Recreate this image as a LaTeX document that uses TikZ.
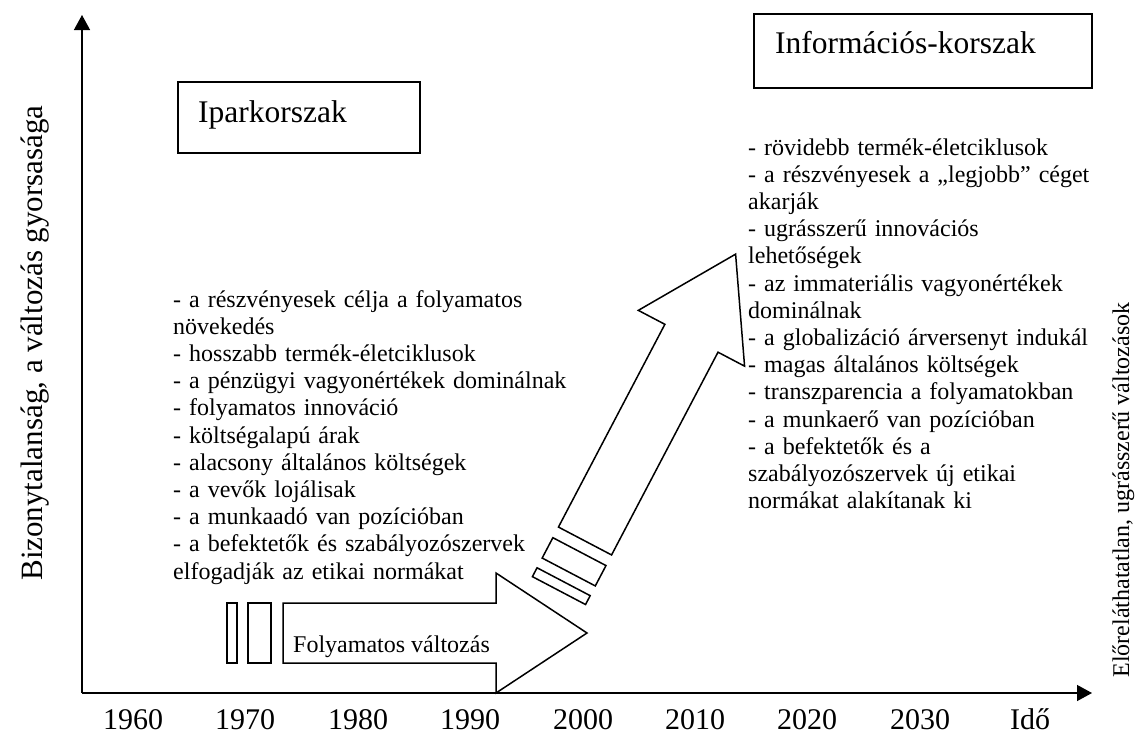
\documentclass[tikz,border=0pt]{standalone}
\usepackage{fontspec}
\setmainfont{Liberation Serif}
\usetikzlibrary{arrows.meta}

% a block arrow (body + head) preceded by two short bars, drawn along the local x axis
\newcommand\blockarrowshape[2]{%
  \draw[blockline] (0,-30) -- (#1,-30) -- (#1,-60) -- ({#1+#2},0) -- (#1,60) -- (#1,30) -- (0,30) -- cycle;
  \draw[blockline] (-56,-30) -- (-46,-30) -- (-46,30) -- (-56,30) -- cycle;
  \draw[blockline] (-35,-30) -- (-12,-30) -- (-12,30) -- (-35,30) -- cycle;
}

\begin{document}
\begin{tikzpicture}[x=1pt,y=-1pt,
  axis/.style={line width=1.3pt,-{Triangle[length=15pt,width=16pt]}},
  blockline/.style={line width=1.5pt,line join=miter},
  periodbox/.style={draw,line width=1.8pt,inner sep=0pt,anchor=north west},
  periodtitle/.style={anchor=base west,inner sep=0pt,font=\fontsize{31.5}{36}\selectfont},
  itemlist/.style={anchor=base west,inner sep=0pt,text width=600pt,align=left,font=\fontsize{24}{27.2}\selectfont},
  yearlabel/.style={anchor=base,inner sep=0pt,font=\fontsize{30}{36}\selectfont},
  axislabel/.style={anchor=base,inner sep=0pt,rotate=90}
]
\useasboundingbox (0,0) rectangle (1135,736);

% axes
\coordinate (O) at (82,693);
\coordinate (ytop) at (82,15);
\coordinate (xend) at (1092,693);
\draw[axis] (O) -- (ytop);
\draw[axis] (O) -- (xend);

% axis titles
\node[axislabel,font=\fontsize{31}{36}\selectfont] (ylab) at (42,343) {Bizonytalanság, a változás gyorsasága};
\node[axislabel,font=\fontsize{24}{28}\selectfont] (rlab) at (1129,490) {Előreláthatatlan, ugrásszerű változások};

% time scale
\node[yearlabel] (y1960) at (133,729) {1960};
\node[yearlabel] (y1970) at (245,729) {1970};
\node[yearlabel] (y1980) at (358,729) {1980};
\node[yearlabel] (y1990) at (470,729) {1990};
\node[yearlabel] (y2000) at (583,729) {2000};
\node[yearlabel] (y2010) at (695,729) {2010};
\node[yearlabel] (y2020) at (807,729) {2020};
\node[yearlabel] (y2030) at (920,729) {2030};
\node[yearlabel] (ido) at (1030,729) {Idő};

% period boxes
\node[periodbox,minimum width=242pt,minimum height=71pt] (iparbox) at (177,81) {};
\node[periodtitle] (ipar) at (198,122) {Iparkorszak};
\node[periodbox,minimum width=338pt,minimum height=74pt] (infobox) at (753,13) {};
\node[periodtitle] (info) at (775,53) {Információs-korszak};

% continuous change: horizontal block arrow
\begin{scope}[shift={(283,633)}]
  \blockarrowshape{213}{91}
\end{scope}
\node[anchor=base west,inner sep=0pt,font=\fontsize{24}{28}\selectfont] (folyam) at (293,652) {Folyamatos változás};

% leaps: rising block arrow
\begin{scope}[shift={(585,541)},rotate=62.3]
  \blockarrowshape{229}{95}
\end{scope}

% characteristics of the industrial era
\node[itemlist] (iparlist) at (173,307) {%
- a részvényesek célja a folyamatos\\
növekedés\\
- hosszabb termék-életciklusok\\
- a pénzügyi vagyonértékek dominálnak\\
- folyamatos innováció\\
- költségalapú árak\\
- alacsony általános költségek\\
- a vevők lojálisak\\
- a munkaadó van pozícióban\\
- a befektetők és szabályozószervek\\
elfogadják az etikai normákat};

% characteristics of the information era
\node[itemlist,text width=380pt] (infolist) at (748,155) {%
- rövidebb termék-életciklusok\\
- a részvényesek a „legjobb” céget\\
akarják\\
- ugrásszerű innovációs\\
lehetőségek\\
- az immateriális vagyonértékek\\
dominálnak\\
- a globalizáció árversenyt indukál\\
- magas általános költségek\\
- transzparencia a folyamatokban\\
- a munkaerő van pozícióban\\
- a befektetők és a\\
szabályozószervek új etikai\\
normákat alakítanak ki};

\end{tikzpicture}
\end{document}
